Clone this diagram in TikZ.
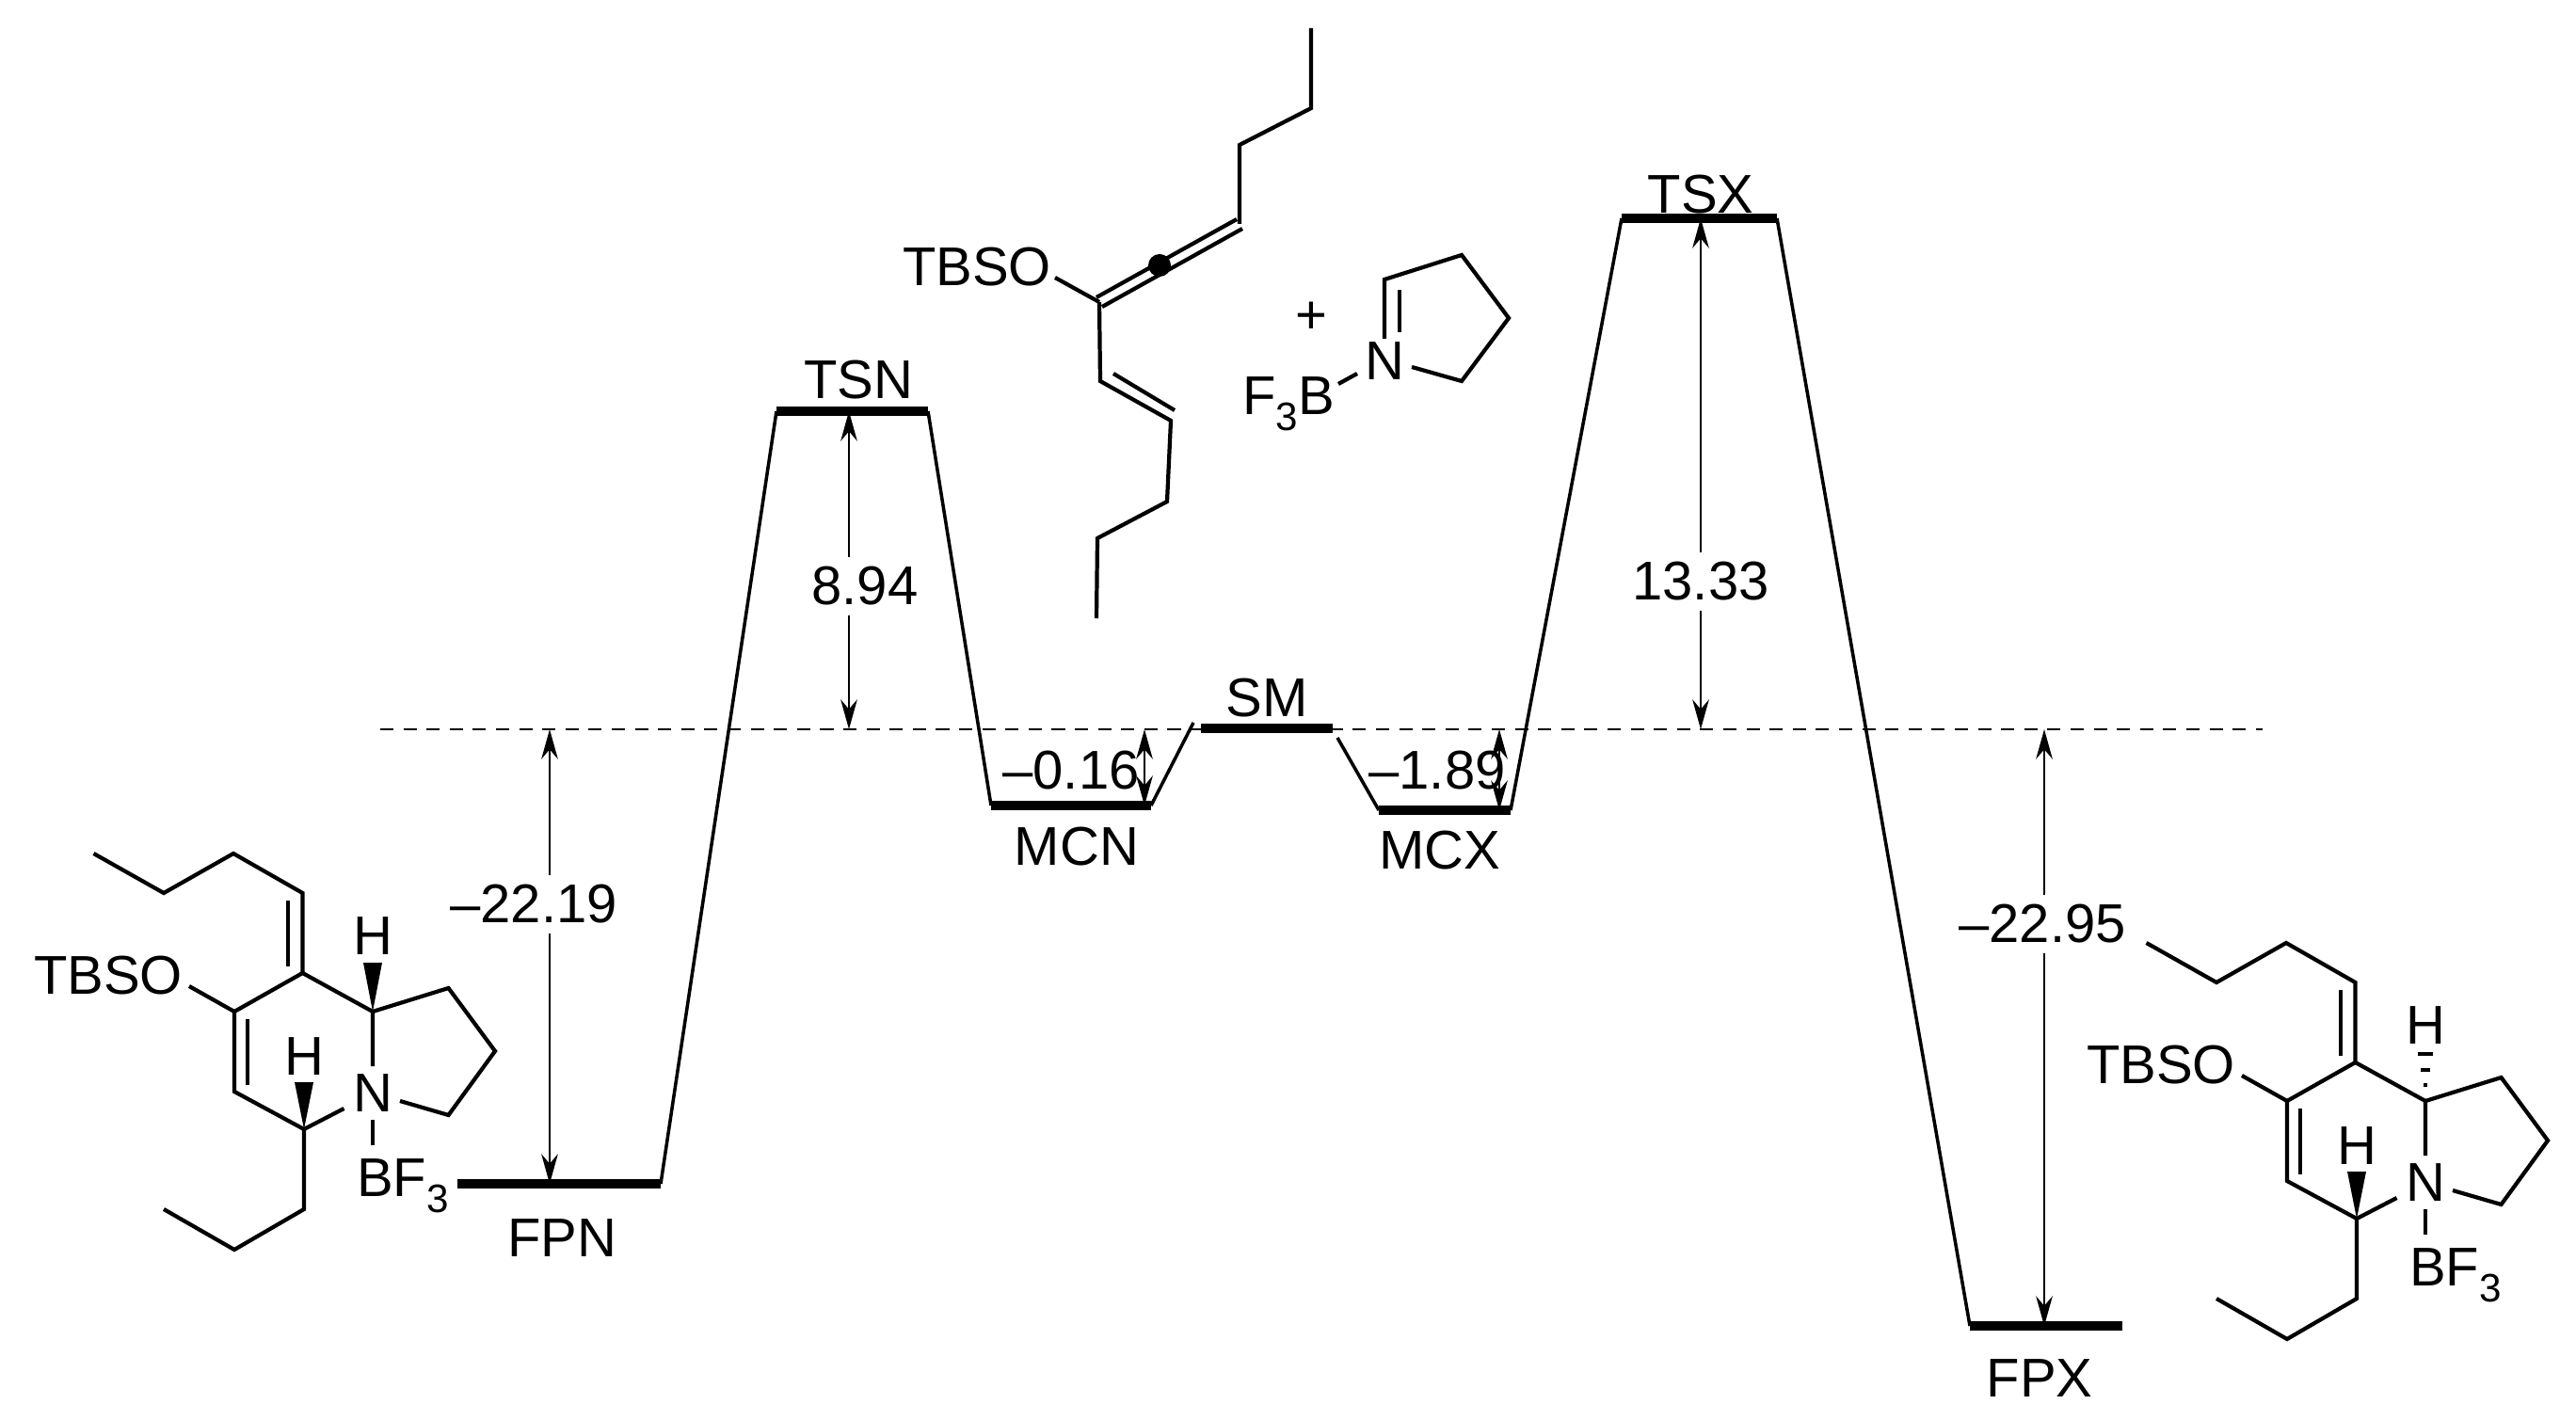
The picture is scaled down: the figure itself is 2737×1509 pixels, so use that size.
\documentclass[tikz,border=0pt]{standalone}
\usepackage{fontspec}
\setmainfont{Liberation Sans}
\usetikzlibrary{arrows.meta}
\newcommand{\sbt}[1]{\raisebox{-0.3em}{\fontsize{12}{12}\selectfont #1}}
\begin{document}
\begin{tikzpicture}[x=0.1mm,y=-0.1mm,
  lbl/.style={font=\fontsize{16.5}{18}\selectfont, inner sep=1pt},
  vlbl/.style={lbl, fill=white, inner sep=3pt},
  lev/.style={line width=2.7pt},
  conn/.style={line width=1pt},
  bond/.style={line width=1.2pt},
  dim/.style={line width=0.8pt, {Stealth[length=9pt,width=5pt]}-{Stealth[length=9pt,width=5pt]}}]
\useasboundingbox (0,0) rectangle (2737,1509);
% reference line
\draw[line width=0.8pt, dash pattern=on 4pt off 3pt] (404,775) -- (2404,775);
% levels
\coordinate (fpnL) at (486,1258); \coordinate (fpnR) at (702,1258);
\coordinate (tsnL) at (825,437); \coordinate (tsnR) at (986,437);
\coordinate (mcnL) at (1053,856); \coordinate (mcnR) at (1223,856);
\coordinate (smL) at (1276,774); \coordinate (smR) at (1416,774);
\coordinate (mcxL) at (1465,861); \coordinate (mcxR) at (1605,861);
\coordinate (tsxL) at (1723,232); \coordinate (tsxR) at (1888,232);
\coordinate (fpxL) at (2093,1409); \coordinate (fpxR) at (2255,1409);
\foreach \a/\b in {fpnL/fpnR,tsnL/tsnR,mcnL/mcnR,smL/smR,mcxL/mcxR,tsxL/tsxR,fpxL/fpxR}
  \draw[lev] (\a) -- (\b);
\draw[conn] (fpnR) -- (tsnL);
\draw[conn] (tsnR) -- (mcnL);
\draw[conn] (mcnR) -- (1268,768);
\draw[conn] (1421,784) -- (mcxL);
\draw[conn] (mcxR) -- (tsxL);
\draw[conn] (tsxR) -- (fpxL);
% level labels
\node[lbl] (TSN) at (912,404) {TSN};
\node[lbl] (MCN) at (1144,900) {MCN};
\node[lbl] (SM) at (1346,742) {SM};
\node[lbl] (MCX) at (1530,904) {MCX};
\node[lbl] (TSX) at (1807,207) {TSX};
\node[lbl] (FPN) at (597,1316) {FPN};
\node[lbl] (FPX) at (2167,1465) {FPX};
% energy arrows
\coordinate (a1t) at (902,437); \coordinate (a1b) at (902,775);
\coordinate (a2t) at (1807,232); \coordinate (a2b) at (1807,775);
\coordinate (a3t) at (584,775); \coordinate (a3b) at (584,1258);
\coordinate (a4t) at (2172,775); \coordinate (a4b) at (2172,1409);
\coordinate (a5t) at (1216,775); \coordinate (a5b) at (1216,856);
\coordinate (a6t) at (1593,775); \coordinate (a6b) at (1593,861);
\foreach \t/\b in {a1t/a1b,a2t/a2b,a3t/a3b,a4t/a4b,a5t/a5b,a6t/a6b}
  \draw[dim] (\t) -- (\b);
\node[vlbl] (e1) at (919,623) {8.94};
\node[vlbl] (e2) at (1807,618) {13.33};
\node[vlbl] (e3) at (567,961) {--22.19};
\node[vlbl] (e4) at (2170,982) {--22.95};
\node[lbl] (e5) at (1138,819) {--0.16};
\node[lbl] (e6) at (1527,819) {--1.89};
% ---- top molecule
\node[lbl] (tbso1) at (1038,284) {TBSO};
\draw[bond] (1121,295) -- (1168,321);
\draw[bond] (1165,316) -- (1314,233);
\draw[bond] (1171,326) -- (1320,243);
\fill (1232,282) circle (12);
\draw[bond] (1317,238) -- (1317,154) -- (1393,115) -- (1393,30);
\draw[bond] (1168,321) -- (1169,405) -- (1244,447) -- (1240,533) -- (1166,572) -- (1165,657);
\draw[bond] (1183,397) -- (1248,436);
\node[lbl] (plus) at (1393,338) {+};
\node[lbl] (Nim) at (1471,384) {N};
\node[lbl] (BF3a) at (1369,429) {F\sbt{3}B};
\draw[bond] (1422,408) -- (1442,397);
\draw[bond] (1471,360) -- (1471,297) -- (1553,271) -- (1603,338) -- (1553,405) -- (1500,390);
\draw[bond] (1487,353) -- (1487,308);
% ---- left molecule (FPN)
\begin{scope}
\node[lbl] (tbso2) at (115,1037) {TBSO};
\draw[bond] (99.5,907) -- (174,949) -- (248,907) -- (321.5,949) -- (321.5,1034) -- (249,1075) -- (249,1160) -- (323,1200) -- (365.5,1178);
\draw[bond] (306,957) -- (306,1027);
\draw[bond] (263,1083) -- (263,1153);
\draw[bond] (201,1048) -- (249,1075);
\draw[bond] (321.5,1034) -- (396,1075) -- (396,1133);
\node[lbl] (N2) at (396,1162) {N};
\draw[bond] (396,1075) -- (476.5,1050) -- (526,1117) -- (476.5,1185) -- (425,1170);
\node[lbl] (H2a) at (396,995) {H};
\fill (396,1075) -- (386,1023) -- (406,1023) -- cycle;
\node[lbl] (H2b) at (323,1123) {H};
\fill (323,1200) -- (313,1150) -- (333,1150) -- cycle;
\draw[bond] (323,1200) -- (323,1285) -- (249,1328) -- (174,1285);
\draw[bond] (396,1190) -- (396,1217);
\node[lbl] (BF3b) at (428,1260) {BF\sbt{3}};
\end{scope}
% ---- right molecule (FPX)
\begin{scope}[shift={(2181,95)}]
\node[lbl] (tbso3) at (115,1037) {TBSO};
\draw[bond] (99.5,907) -- (174,949) -- (248,907) -- (321.5,949) -- (321.5,1034) -- (249,1075) -- (249,1160) -- (323,1200) -- (365.5,1178);
\draw[bond] (306,957) -- (306,1027);
\draw[bond] (263,1083) -- (263,1153);
\draw[bond] (201,1048) -- (249,1075);
\draw[bond] (321.5,1034) -- (396,1075) -- (396,1133);
\node[lbl] (N3) at (396,1162) {N};
\draw[bond] (396,1075) -- (476.5,1050) -- (526,1117) -- (476.5,1185) -- (425,1170);
\node[lbl] (H3a) at (396,995) {H};
\draw[bond] (388,1025) -- (404,1025);
\draw[bond] (391,1042) -- (401,1042);
\draw[bond] (394,1058) -- (398,1058);
\node[lbl] (H3b) at (323,1123) {H};
\fill (323,1200) -- (313,1150) -- (333,1150) -- cycle;
\draw[bond] (323,1200) -- (323,1285) -- (249,1328) -- (174,1285);
\draw[bond] (396,1190) -- (396,1217);
\node[lbl] (BF3c) at (428,1260) {BF\sbt{3}};
\end{scope}
\end{tikzpicture}
\end{document}
